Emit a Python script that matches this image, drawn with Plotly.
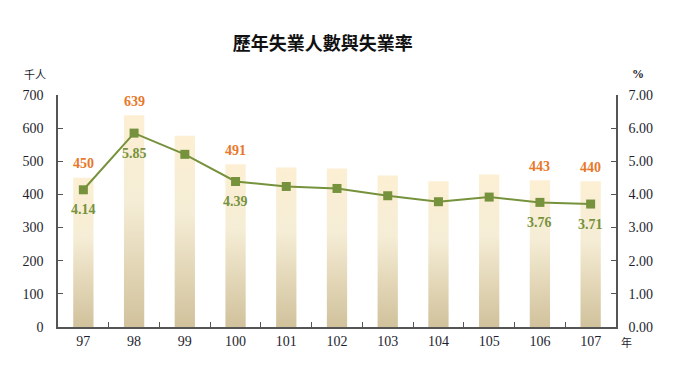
import plotly.graph_objects as go

years = ["97", "98", "99", "100", "101", "102", "103", "104", "105", "106", "107"]
unemployed = [450, 639, 577, 491, 481, 478, 457, 440, 460, 443, 440]   # 千人
rate = [4.14, 5.85, 5.21, 4.39, 4.24, 4.18, 3.96, 3.78, 3.92, 3.76, 3.71]  # %
labeled = [0, 1, 3, 9, 10]

BAR_W = 0.4
SERIF = "Liberation Serif"
ORANGE = "#E8782A"
GREEN = "#76923C"
AXIS = "#555555"
TXT = "#1E1E2E"

gradient = [[0.0, "#D1C29C"], [0.3, "#E3D7B8"], [0.6, "#F5EDD6"], [1.0, "#FCEFD3"]]

fig = go.Figure()

for i, v in enumerate(unemployed):
    x0, x1 = i - BAR_W / 2, i + BAR_W / 2
    fig.add_trace(go.Scatter(
        x=[x0, x1, x1, x0, x0], y=[0, 0, v, v, 0],
        mode="lines", fill="toself", line=dict(width=0),
        fillgradient=dict(type="vertical", colorscale=gradient),
        hoverinfo="skip", showlegend=False,
    ))

fig.add_trace(go.Scatter(
    x=list(range(len(years))), y=rate, yaxis="y2",
    mode="lines+markers",
    line=dict(color=GREEN, width=2),
    marker=dict(symbol="square", size=9, color=GREEN),
    showlegend=False,
))

for i in labeled:
    fig.add_annotation(x=i, y=unemployed[i], text=str(unemployed[i]), showarrow=False,
                       yanchor="middle", yshift=14,
                       font=dict(family=SERIF, size=14, color=ORANGE, weight="bold"))
    fig.add_annotation(x=i, y=rate[i], yref="y2", text=f"{rate[i]:.2f}", showarrow=False,
                       yanchor="middle", yshift=-20,
                       font=dict(family=SERIF, size=14, color=GREEN, weight="bold"))

fig.add_annotation(xref="paper", yref="paper", x=-0.041, y=1.09, text="千人", showarrow=False,
                   xanchor="center", yanchor="middle",
                   font=dict(family="Noto Sans CJK TC", size=11, color=TXT))
fig.add_annotation(xref="paper", yref="paper", x=1.04, y=1.09, text="%", showarrow=False,
                   xanchor="center", yanchor="middle",
                   font=dict(family=SERIF, size=12, color=TXT, weight="bold"))
fig.add_annotation(xref="paper", yref="paper", x=1.005, y=-0.065, text="年", showarrow=False,
                   xanchor="left", yanchor="middle",
                   font=dict(family="Noto Sans CJK TC", size=11, color=TXT))

fig.update_layout(
    width=680, height=383,
    margin=dict(l=50, r=72, t=87, b=64),
    paper_bgcolor="white", plot_bgcolor="white",
    title=dict(text="歷年失業人數與失業率", x=0.463, xanchor="center", y=0.906, yanchor="middle",
               font=dict(family="Noto Sans CJK TC", size=18, color="#111111", weight="bold")),
    xaxis=dict(
        range=[-0.5, len(years) - 0.5], tickmode="array",
        tickvals=list(range(len(years))), ticktext=years,
        ticks="", showgrid=False, zeroline=False,
        showline=True, linecolor=AXIS, linewidth=1.5,
        tickfont=dict(family=SERIF, size=14, color=TXT),
        minor=dict(tickmode="array", tickvals=[k + 0.5 for k in range(len(years) - 1)],
                   ticks="inside", ticklen=5, tickcolor=AXIS, tickwidth=1, showgrid=False),
    ),
    yaxis=dict(
        range=[0, 700], dtick=100, ticks="inside", ticklen=5, tickcolor=AXIS,
        showline=True, linecolor=AXIS, linewidth=1.5, showgrid=False, zeroline=False,
        tickfont=dict(family=SERIF, size=14, color=TXT), ticklabelstandoff=10,
    ),
    yaxis2=dict(
        range=[0, 7], dtick=1, tickformat=".2f", overlaying="y", side="right",
        ticks="inside", ticklen=5, tickcolor=AXIS,
        showline=True, linecolor=AXIS, linewidth=1.5, showgrid=False, zeroline=False,
        tickfont=dict(family=SERIF, size=14, color=TXT), ticklabelstandoff=8,
    ),
)

fig.write_html("out.html")
